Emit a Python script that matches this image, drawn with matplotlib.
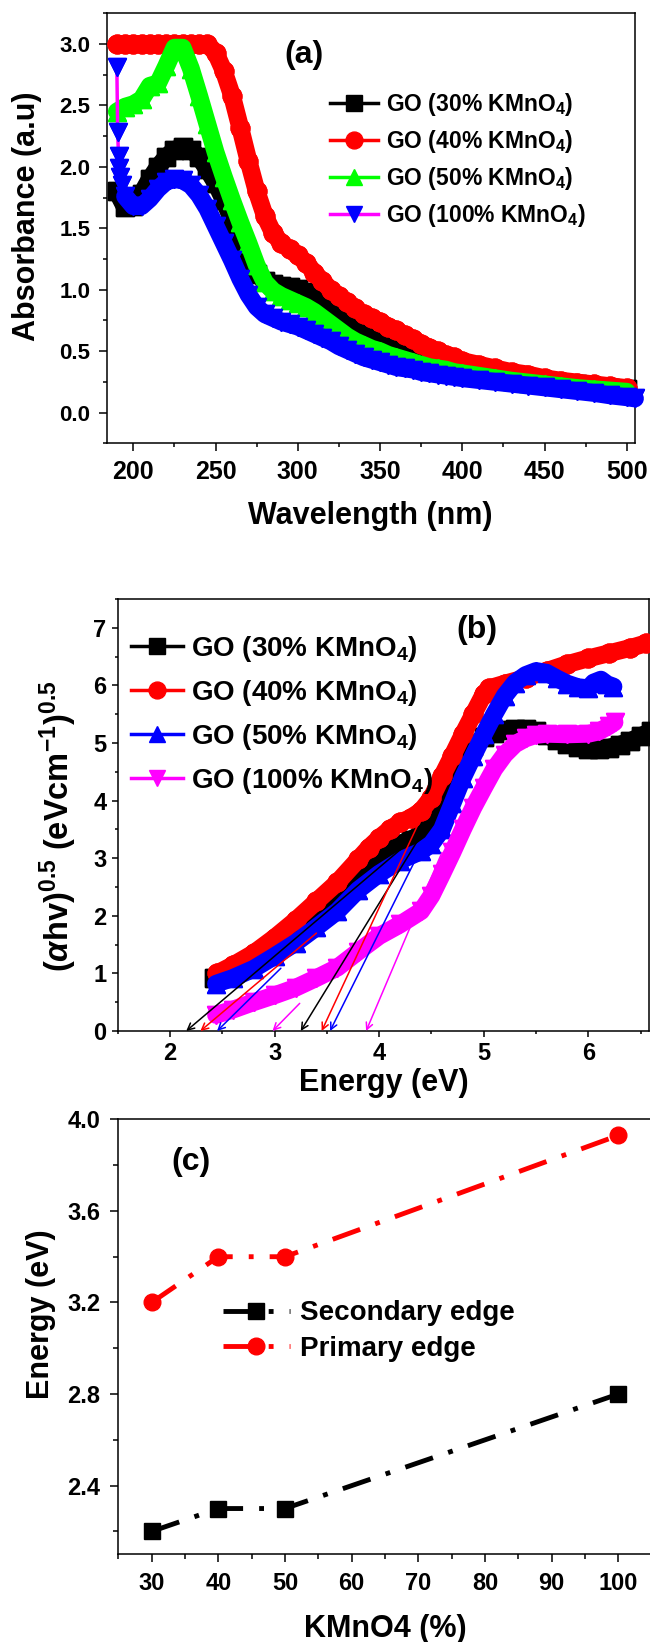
import matplotlib
matplotlib.use('Agg')
import matplotlib.pyplot as plt
from matplotlib.ticker import MultipleLocator

plt.rcParams['font.family'] = ['Liberation Sans', 'DejaVu Sans']
plt.rcParams['font.weight'] = 'bold'
plt.rcParams['axes.labelweight'] = 'bold'
plt.rcParams['mathtext.fontset'] = 'custom'
plt.rcParams['mathtext.rm'] = 'Liberation Sans:bold'
plt.rcParams['mathtext.bf'] = 'Liberation Sans:bold'
plt.rcParams['mathtext.it'] = 'Liberation Sans:italic:bold'

# ---- (a) UV-vis absorbance ----
wl = [190, 195, 200, 205, 210, 215, 220, 225, 230, 235, 240, 245, 250, 255, 260,
      265, 270, 275, 280, 285, 290, 295, 300, 305, 310, 315, 320, 325, 330, 335,
      340, 345, 350, 355, 360, 365, 370, 375, 380, 385, 390, 395, 400,
      410, 420, 430, 440, 450, 460, 470, 480, 490, 500]
abs_30 = [1.80, 1.67, 1.68, 1.78, 1.90, 2.00, 2.08, 2.14, 2.16, 2.14, 2.08, 1.98, 1.87, 1.73, 1.57,
          1.40, 1.24, 1.13, 1.07, 1.05, 1.03, 1.02, 1.01, 0.98, 0.94, 0.89, 0.84, 0.78, 0.72, 0.67,
          0.63, 0.59, 0.56, 0.53, 0.50, 0.48, 0.46, 0.43, 0.41, 0.39, 0.38, 0.37, 0.35,
          0.33, 0.31, 0.29, 0.27, 0.25, 0.24, 0.23, 0.21, 0.20, 0.19]
abs_40 = [3.00, 3.00, 3.00, 3.00, 3.00, 3.00, 3.00, 3.00, 3.00, 3.00, 3.00, 3.00, 2.93, 2.78, 2.58,
          2.32, 2.05, 1.80, 1.60, 1.46, 1.38, 1.33, 1.28, 1.22, 1.14, 1.07, 1.00, 0.95, 0.90, 0.85,
          0.80, 0.77, 0.74, 0.70, 0.67, 0.63, 0.60, 0.56, 0.53, 0.50, 0.47, 0.45, 0.42,
          0.39, 0.36, 0.33, 0.31, 0.28, 0.26, 0.245, 0.23, 0.215, 0.20]
abs_50 = [2.45, 2.49, 2.51, 2.55, 2.66, 2.68, 2.82, 2.97, 2.97, 2.80, 2.58, 2.35, 2.12, 1.92, 1.73,
          1.55, 1.38, 1.20, 1.06, 0.99, 0.95, 0.92, 0.89, 0.86, 0.82, 0.77, 0.72, 0.67, 0.62, 0.58,
          0.55, 0.52, 0.50, 0.47, 0.45, 0.43, 0.41, 0.39, 0.37, 0.36, 0.35, 0.33, 0.32,
          0.30, 0.28, 0.26, 0.245, 0.23, 0.215, 0.20, 0.19, 0.18, 0.17]
wl_100 = [190, 190.5, 191, 191.5, 192, 193, 195, 200, 205, 210, 215, 220, 225, 230, 235, 240,
          245, 250, 255, 260, 265, 270, 275, 280, 285, 290, 295, 300, 305, 310, 315, 320,
          325, 330, 335, 340, 345, 350, 355, 360, 365, 370, 375, 380, 385, 390, 395, 400,
          410, 420, 430, 440, 450, 460, 470, 480, 490, 500, 505]
abs_100 = [2.81, 2.28, 2.09, 1.99, 1.92, 1.85, 1.76, 1.68, 1.68, 1.74, 1.82, 1.88, 1.90, 1.89, 1.85, 1.77,
           1.66, 1.52, 1.38, 1.24, 1.09, 0.96, 0.86, 0.80, 0.77, 0.74, 0.72, 0.70, 0.67, 0.64, 0.61, 0.58,
           0.54, 0.51, 0.48, 0.45, 0.43, 0.41, 0.39, 0.37, 0.36, 0.35, 0.33, 0.32, 0.31, 0.30, 0.29, 0.28,
           0.265, 0.25, 0.235, 0.22, 0.205, 0.19, 0.175, 0.16, 0.14, 0.125, 0.115]

# ---- (b) Tauc plot ----
e_30 = [2.42, 2.6, 2.8, 3.0, 3.2, 3.4, 3.6, 3.8, 4.0, 4.1, 4.2, 4.3, 4.4, 4.5, 4.6, 4.7, 4.8, 4.9,
        5.0, 5.1, 5.2, 5.3, 5.4, 5.5, 5.6, 5.7, 5.8, 5.9, 6.0, 6.1, 6.2, 6.3, 6.4, 6.5, 6.6]
ahv_30 = [0.92, 1.05, 1.25, 1.50, 1.78, 2.10, 2.42, 2.75, 3.02, 3.15, 3.25, 3.32, 3.42, 3.70, 4.05, 4.40,
          4.70, 4.95, 5.10, 5.18, 5.22, 5.24, 5.24, 5.20, 5.14, 5.05, 4.98, 4.93, 4.90, 4.90, 4.92,
          4.97, 5.03, 5.12, 5.20]
e_40 = [2.45, 2.6, 2.8, 3.0, 3.2, 3.4, 3.6, 3.8, 3.9, 4.0, 4.1, 4.2, 4.3, 4.4, 4.5, 4.6, 4.7, 4.8,
        4.9, 5.0, 5.05, 5.2, 5.4, 5.6, 5.8, 6.0, 6.2, 6.4, 6.55]
ahv_40 = [1.00, 1.14, 1.35, 1.62, 1.92, 2.25, 2.58, 2.98, 3.18, 3.35, 3.50, 3.62, 3.70, 3.82, 4.05, 4.42,
          4.78, 5.15, 5.50, 5.85, 5.95, 6.03, 6.13, 6.25, 6.37, 6.47, 6.56, 6.65, 6.73]
e_50 = [2.44, 2.6, 2.8, 3.0, 3.2, 3.4, 3.6, 3.8, 4.0, 4.2, 4.4, 4.5, 4.6, 4.7, 4.8, 4.9, 5.0, 5.1,
        5.2, 5.3, 5.4, 5.5, 5.6, 5.7, 5.8, 5.9, 6.0, 6.05, 6.12, 6.18, 6.24]
ahv_50 = [0.82, 0.92, 1.08, 1.30, 1.53, 1.80, 2.08, 2.45, 2.73, 2.96, 3.12, 3.25, 3.50, 3.95, 4.40, 4.78,
          5.15, 5.50, 5.82, 6.05, 6.18, 6.25, 6.22, 6.12, 6.03, 5.97, 5.95, 6.05, 6.10, 6.02, 5.98]
e_100 = [2.44, 2.6, 2.8, 3.0, 3.2, 3.4, 3.6, 3.8, 4.0, 4.2, 4.4, 4.5, 4.6, 4.7, 4.8, 4.9, 5.0, 5.1,
         5.2, 5.3, 5.4, 5.5, 5.6, 5.8, 6.0, 6.1, 6.2, 6.25]
ahv_100 = [0.28, 0.37, 0.50, 0.62, 0.75, 0.92, 1.10, 1.38, 1.65, 1.85, 2.08, 2.35, 2.72, 3.10, 3.50, 3.88,
           4.22, 4.55, 4.80, 4.98, 5.08, 5.14, 5.16, 5.15, 5.16, 5.20, 5.30, 5.36]

# tangent extrapolations: (tail x, tail y) -> intercept on the energy axis
edge_colors = ['black', 'red', 'blue', 'magenta']
sec_tip = [2.155, 2.29, 2.45, 2.98]
sec_tail_x = [4.30, 3.40, 3.06, 3.24]
sec_tail_y = [3.30, 1.70, 1.09, 0.48]
pri_tip = [3.25, 3.45, 3.53, 3.875]
pri_tail_x = [4.45, 4.40, 4.45, 4.60]
pri_tail_y = [3.55, 3.70, 3.35, 3.10]

# ---- (c) band edges ----
kmno4 = [30, 40, 50, 100]
secondary_edge = [2.2, 2.3, 2.3, 2.8]
primary_edge = [3.2, 3.4, 3.4, 3.93]

fig = plt.figure(figsize=(6.5, 16.42), dpi=100)
ax_a = fig.add_axes([0.1646, 0.7300, 0.8123, 0.2619])
ax_b = fig.add_axes([0.1811, 0.3721, 0.8174, 0.2631])
ax_c = fig.add_axes([0.1820, 0.0534, 0.8206, 0.2649])


def thick_trace(ax, x, y, line_c, mark_c, marker, label, z, skip=0, clip=True, ms=13.5):
    # thin connecting line sits below the band; only shows where points are sparse
    ax.plot(x, y, color=line_c, lw=2.5, marker=marker, ms=ms, mfc=mark_c, mec=mark_c,
            label=label, zorder=z - 0.2, clip_on=clip)
    # wide underlay so the dense markers read as one band
    ax.plot(x[skip:], y[skip:], color=mark_c, lw=ms * 0.95, solid_capstyle='round',
            solid_joinstyle='round', zorder=z, clip_on=clip)
    ax.plot(x, y, ls='none', marker=marker, ms=ms, mfc=mark_c, mec=mark_c,
            zorder=z + 0.5, clip_on=clip)


def style_axis(ax, lab, maj, mino, pad, lmaj, lmin):
    for sp in ax.spines.values():
        sp.set_linewidth(1.1)
    ax.tick_params(which='both', direction='out', top=False, right=False, width=1.1)
    ax.tick_params(which='major', length=lmaj, pad=pad)
    ax.tick_params(which='minor', length=lmin)
    ax.tick_params(axis='x', labelsize=lab[0])
    ax.tick_params(axis='y', labelsize=lab[1])
    ax.xaxis.set_major_locator(MultipleLocator(maj[0]))
    ax.yaxis.set_major_locator(MultipleLocator(maj[1]))
    ax.xaxis.set_minor_locator(MultipleLocator(mino[0]))
    ax.yaxis.set_minor_locator(MultipleLocator(mino[1]))


# panel (a)
thick_trace(ax_a, wl, abs_30, 'black', 'black', 's', 'GO (30% KMnO$_\\mathbf{4}$)', 2, clip=False)
thick_trace(ax_a, wl, abs_40, 'red', 'red', 'o', 'GO (40% KMnO$_\\mathbf{4}$)', 3, clip=False)
thick_trace(ax_a, wl, abs_50, '#00ff00', '#00ff00', '^', 'GO (50% KMnO$_\\mathbf{4}$)', 4, clip=False)
thick_trace(ax_a, wl_100, abs_100, 'magenta', 'blue', 'v', 'GO (100% KMnO$_\\mathbf{4}$)', 5,
            skip=6, clip=False)
ax_a.set_xlim(184, 505)
ax_a.set_ylim(-0.25, 3.25)
style_axis(ax_a, (18, 16), (50, 0.5), (25, 0.25), 6.5, 5.5, 3)
ax_a.set_xlabel('Wavelength (nm)', fontsize=22)
ax_a.set_ylabel('Absorbance (a.u)', fontsize=22)
ax_a.xaxis.set_label_coords(0.498, -0.168)
ax_a.yaxis.set_label_coords(-0.1515, 0.527)
ax_a.xaxis.label.set_va('center')
ax_a.yaxis.label.set_va('center')
ax_a.text(0.373, 0.903, '(a)', transform=ax_a.transAxes, fontsize=23,
          ha='center', va='center')
ax_a.legend(loc='center left', bbox_to_anchor=(0.4223, 0.6588), frameon=False,
            fontsize=16.5, handlelength=2.1, handletextpad=0.35, labelspacing=0.44,
            borderpad=0, borderaxespad=0, markerscale=0.9)

# panel (b)
thick_trace(ax_b, e_30, ahv_30, 'black', 'black', 's', 'GO (30% KMnO$_\\mathbf{4}$)', 2)
thick_trace(ax_b, e_40, ahv_40, 'red', 'red', 'o', 'GO (40% KMnO$_\\mathbf{4}$)', 3)
thick_trace(ax_b, e_50, ahv_50, 'blue', 'blue', '^', 'GO (50% KMnO$_\\mathbf{4}$)', 4)
thick_trace(ax_b, e_100, ahv_100, 'magenta', 'magenta', 'v', 'GO (100% KMnO$_\\mathbf{4}$)', 5)
for c, tip, tx, ty in zip(edge_colors, sec_tip, sec_tail_x, sec_tail_y):
    ax_b.annotate('', xy=(tip, 0), xytext=(tx, ty), zorder=8,
                  arrowprops=dict(arrowstyle='->', color=c, lw=1.1, mutation_scale=12,
                                  shrinkA=0, shrinkB=0))
for c, tip, tx, ty in zip(edge_colors, pri_tip, pri_tail_x, pri_tail_y):
    ax_b.annotate('', xy=(tip, 0), xytext=(tx, ty), zorder=8,
                  arrowprops=dict(arrowstyle='->', color=c, lw=1.1, mutation_scale=12,
                                  shrinkA=0, shrinkB=0))
ax_b.set_xlim(1.5, 6.58)
ax_b.set_ylim(0, 7.5)
style_axis(ax_b, (17, 17), (1, 1), (0.5, 0.5), 4, 4, 2.5)
ax_b.set_xlabel('Energy (eV)', fontsize=22)
ax_b.set_ylabel(r'($\alpha$hv)$^{\mathbf{0.5}}$ (eVcm$^{\mathbf{-1}}$)$^{\mathbf{0.5}}$', fontsize=23.5)
ax_b.xaxis.set_label_coords(0.501, -0.12)
ax_b.yaxis.set_label_coords(-0.112, 0.4745)
ax_b.xaxis.label.set_va('center')
ax_b.yaxis.label.set_va('center')
ax_b.text(0.676, 0.928, '(b)', transform=ax_b.transAxes, fontsize=23,
          ha='center', va='center')
ax_b.legend(loc='center left', bbox_to_anchor=(0.025, 0.7317), frameon=False,
            fontsize=20, handlelength=1.87, handletextpad=0.29, labelspacing=0.5,
            borderpad=0, borderaxespad=0, markerscale=0.9)

# panel (c)
dash_dot = (0, (6, 3.3, 1, 3.3))
ax_c.plot(kmno4, secondary_edge, color='black', lw=3.5, ls=dash_dot, marker='s', ms=11,
          label='Secondary edge', clip_on=False, zorder=3)
ax_c.plot(kmno4, primary_edge, color='red', lw=3.5, ls=dash_dot, marker='o', ms=12,
          label='Primary edge', clip_on=False, zorder=3)
ax_c.set_xlim(25, 105)
ax_c.set_ylim(2.1, 4.0)
style_axis(ax_c, (17, 17), (10, 0.4), (5, 0.2), 7, 6, 3.5)
ax_c.set_xlabel('KMnO4 (%)', fontsize=22)
ax_c.set_ylabel('Energy (eV)', fontsize=22)
ax_c.xaxis.set_label_coords(0.5, -0.172)
ax_c.yaxis.set_label_coords(-0.144, 0.551)
ax_c.xaxis.label.set_va('center')
ax_c.yaxis.label.set_va('center')
ax_c.text(0.136, 0.902, '(c)', transform=ax_c.transAxes, fontsize=23,
          ha='center', va='center')
ax_c.legend(loc='center left', bbox_to_anchor=(0.1963, 0.5133), frameon=False,
            fontsize=20, handlelength=2.4, handletextpad=0.36, labelspacing=0.33,
            borderpad=0, borderaxespad=0)

fig.savefig('out.png', dpi=100)
